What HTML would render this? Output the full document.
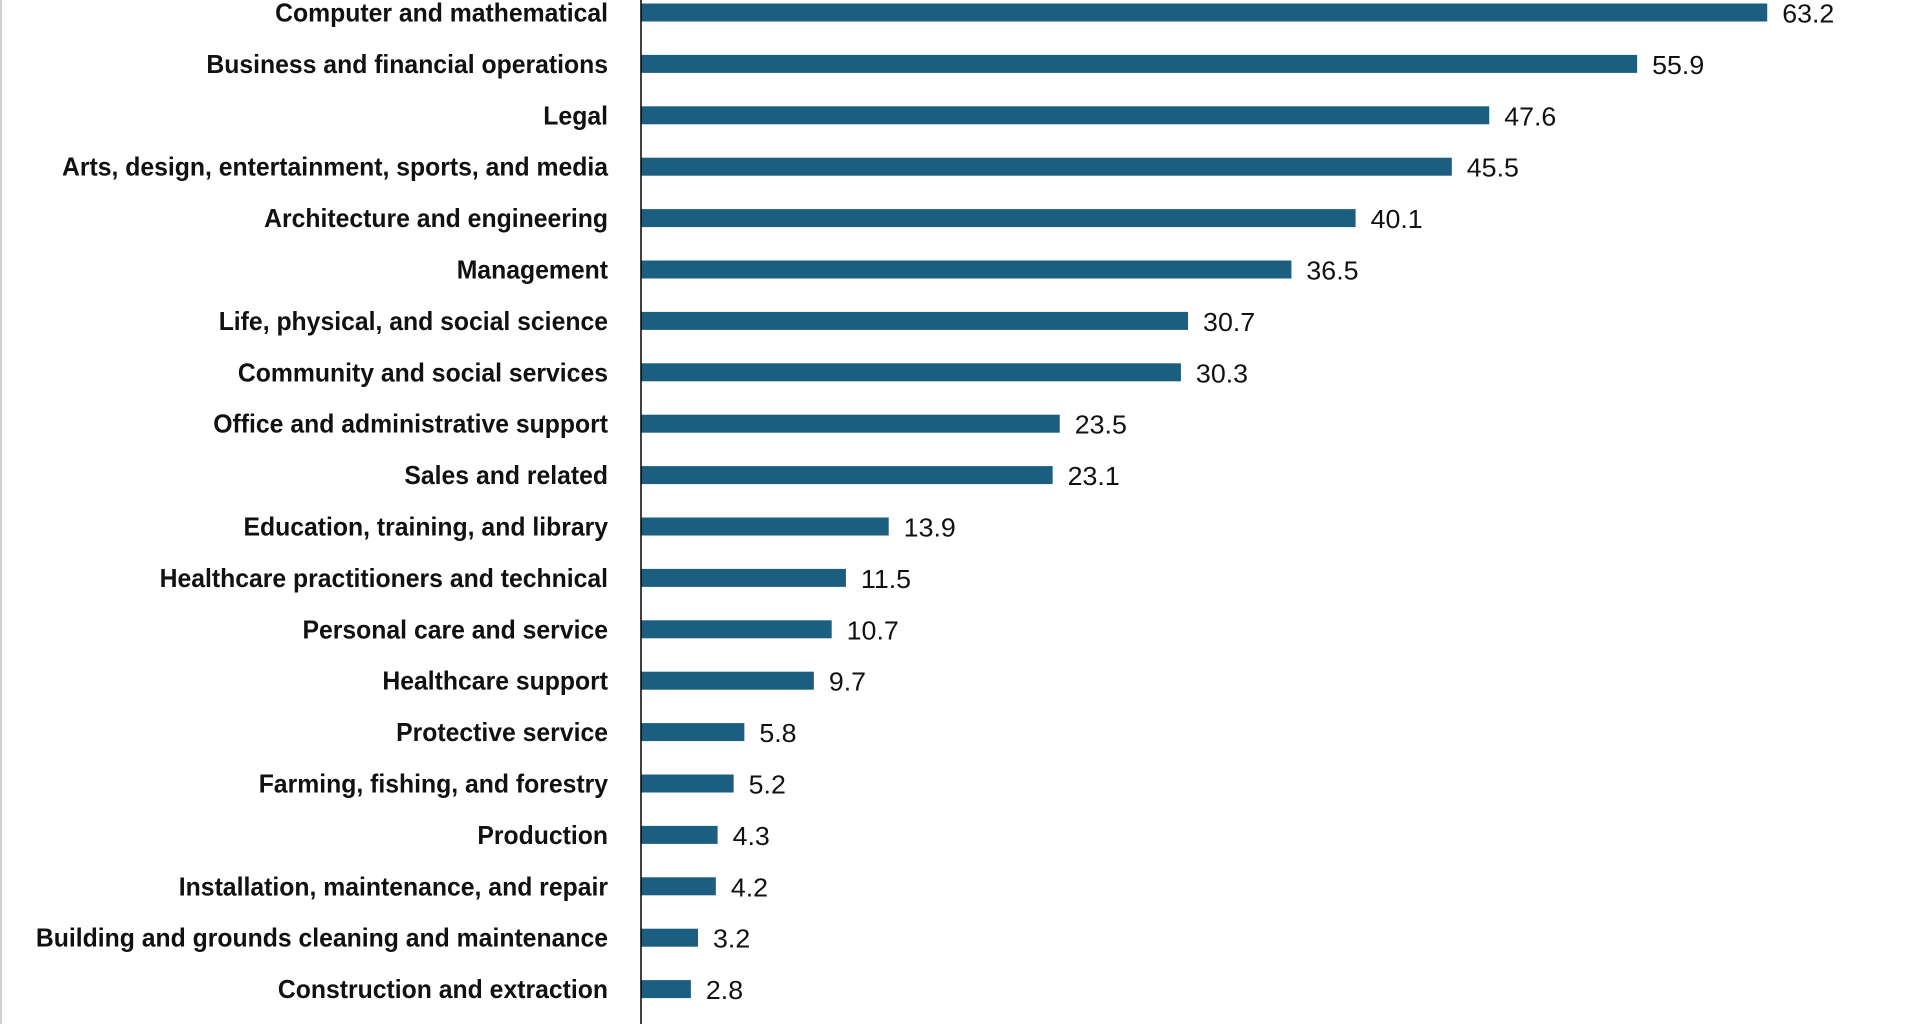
<!DOCTYPE html>
<html><head><meta charset="utf-8"><style>
html,body{margin:0;padding:0;background:#fff;width:1920px;height:1024px;overflow:hidden}
svg text{font-family:"Liberation Sans",Arial,sans-serif}
</style></head><body>
<svg id="chart" width="1920" height="1024" xmlns="http://www.w3.org/2000/svg">
<rect x="0" y="0" width="2" height="1024" fill="#d0d0d0"/>
<g id="bars"></g>
<line x1="641" y1="0" x2="641" y2="1024" stroke="#000" stroke-width="1.5"/>
</svg>
<script>
const categories=["Computer and mathematical","Business and financial operations","Legal","Arts, design, entertainment, sports, and media","Architecture and engineering","Management","Life, physical, and social science","Community and social services","Office and administrative support","Sales and related","Education, training, and library","Healthcare practitioners and technical","Personal care and service","Healthcare support","Protective service","Farming, fishing, and forestry","Production","Installation, maintenance, and repair","Building and grounds cleaning and maintenance","Construction and extraction"];
const values=[63.2,55.9,47.6,45.5,40.1,36.5,30.7,30.3,23.5,23.1,13.9,11.5,10.7,9.7,5.8,5.2,4.3,4.2,3.2,2.8];
const labels=["63.2","55.9","47.6","45.5","40.1","36.5","30.7","30.3","23.5","23.1","13.9","11.5","10.7","9.7","5.8","5.2","4.3","4.2","3.2","2.8"];
const x0=641, pxPerUnit=17.82, y0=12.5, step=51.4, bh=18;
function xs(v){return x0+v*pxPerUnit;}
function ys(i){return y0+i*step;}
const NS="http://www.w3.org/2000/svg";
const g=document.getElementById('bars');
categories.forEach((c,i)=>{
  const yc=ys(i);
  const r=document.createElementNS(NS,'rect');
  r.setAttribute('x',x0);r.setAttribute('y',yc-bh/2);
  r.setAttribute('width',xs(values[i])-x0);r.setAttribute('height',bh);
  r.setAttribute('fill','#1b5e80');
  
  
  g.appendChild(r);
  const t=document.createElementNS(NS,'text');
  t.setAttribute('x',608);t.setAttribute('y',yc+9);
  t.setAttribute('text-anchor','end');t.setAttribute('font-size','26');
  t.setAttribute('font-weight','bold');t.setAttribute('fill','#111');
  t.textContent=c;
  
  
  g.appendChild(t);
  const w=t.getComputedTextLength();
  t.setAttribute('textLength',(w*0.952).toFixed(1));
  t.setAttribute('lengthAdjust','spacingAndGlyphs');
  const v=document.createElementNS(NS,'text');
  v.setAttribute('x',xs(values[i])+15);v.setAttribute('y',yc+10);
  v.setAttribute('font-size','26');v.setAttribute('fill','#111');
  v.textContent=labels[i];
  
  
  g.appendChild(v);
  const wv=v.getComputedTextLength();
  v.setAttribute('textLength',(wv*1.03).toFixed(1));
  v.setAttribute('lengthAdjust','spacingAndGlyphs');
});
</script>
</body></html>
